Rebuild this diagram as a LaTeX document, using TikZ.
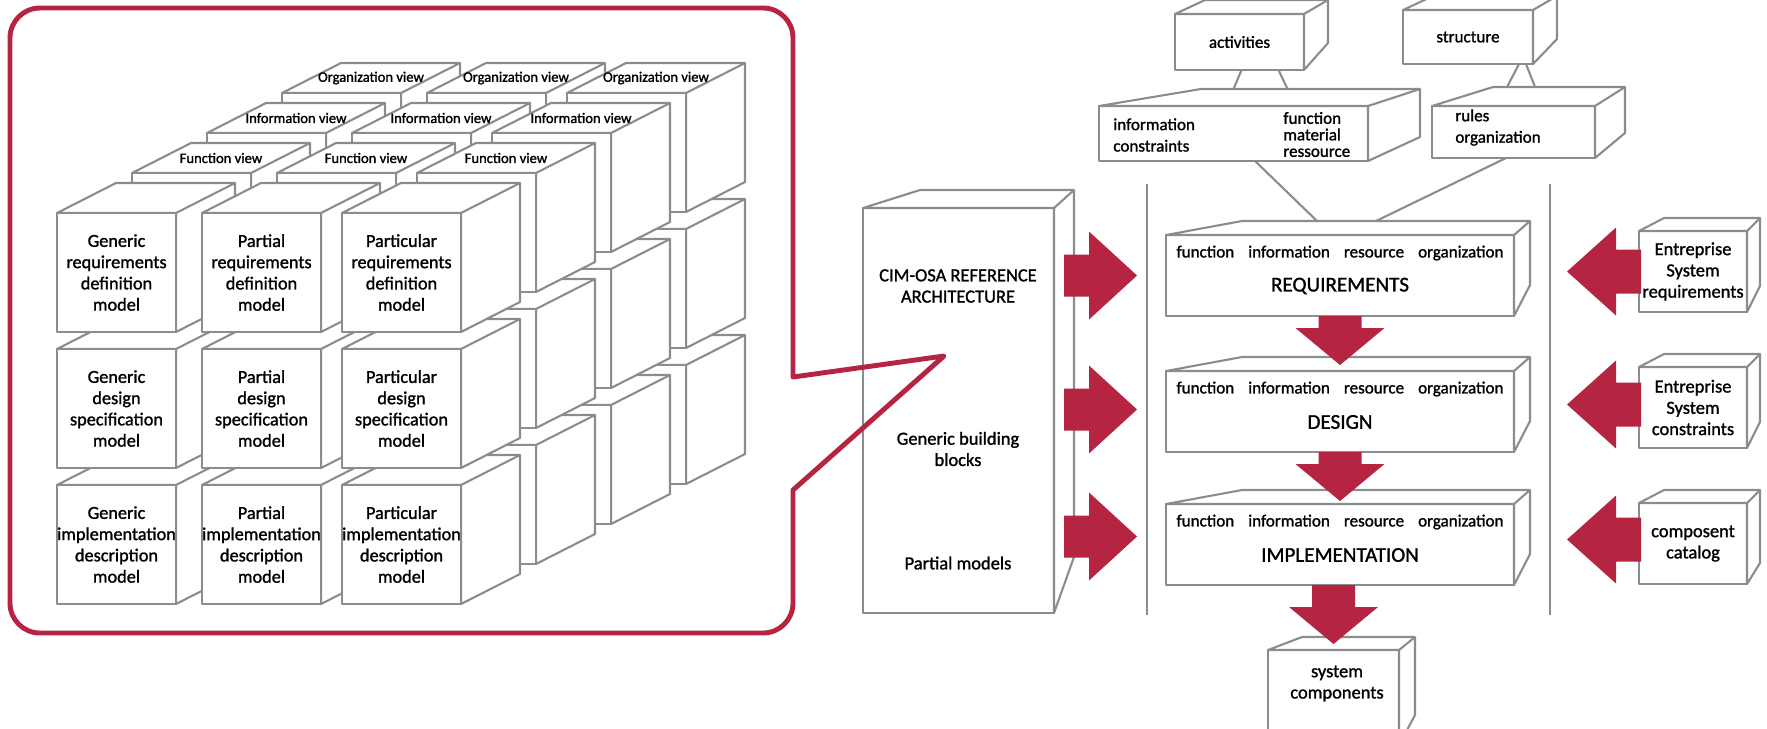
\documentclass[tikz,border=0pt]{standalone}
\usepackage{fontspec}
\setmainfont{Carlito}[FakeBold=1.3]
\usetikzlibrary{calc}

\definecolor{cimred}{RGB}{181,36,64}
\definecolor{linegray}{RGB}{138,141,144}

\tikzset{
  edge/.style={draw=linegray, line width=1.2pt, line join=round},
  face/.style 2 args={edge, fill=white, rectangle, inner sep=0pt, outer sep=0pt,
    minimum width=#1*0.02cm, minimum height=#2*0.02cm},
  small/.style={font=\fontsize{9.7}{12.2}\selectfont, inner sep=0pt},
  plain/.style={font=\fontsize{10.5}{12.1}\selectfont, align=center, inner sep=0pt},
  phase/.style={font=\fontsize{12}{14}\selectfont, inner sep=0pt},
  modeltxt/.style={font=\fontsize{10.4}{12.1}\selectfont, align=center, inner sep=0pt},
  viewtxt/.style={font=\fontsize{8.3}{10}\selectfont, inner sep=0pt},
  callout/.style={draw=cimred, line width=2.8pt, line join=round}
}

% one cube of the grid, #1,#2 = top left corner of the front face
\newcommand{\modelcube}[2]{%
  \filldraw[edge, fill=white] (#1,#2) -- ++(59,-30) -- ++(119,0) -- ++(0,119) -- ++(-59,30) -- ++(0,-119) -- cycle;
  \filldraw[edge, fill=white] (#1,#2) rectangle ++(119,119);
  \draw[edge] (#1+119,#2) -- ++(59,-30);
}
% top and right faces of a box node: node, dx left, dx right, rise top, rise bottom
\newcommand{\depthfaces}[5]{%
  \filldraw[edge, fill=white] (#1.north west) -- ++(#2,-#4) -- ($(#1.north east)+(#3,-#4)$)
    -- ($(#1.south east)+(#3,-#5)$) -- (#1.south east) -- (#1.north east) -- cycle;
  \draw[edge] (#1.north east) -- ++(#3,-#4);
}
% block arrows, #1 = tip
\newcommand{\arrowright}[1]{\fill[cimred] (#1) ++(-73,-21) -- ++(25,0) -- ++(0,-23) -- ++(48,44) -- ++(-48,44) -- ++(0,-23) -- ++(-25,0) -- cycle;}
\newcommand{\arrowleft}[1]{\fill[cimred] (#1) ++(74,-22) -- ++(-25,0) -- ++(0,-22) -- ++(-49,44) -- ++(49,44) -- ++(0,-22) -- ++(25,0) -- cycle;}
\newcommand{\arrowdown}[2]{\fill[cimred] (#1) ++(-21.5,-37-#2) -- ++(0,#2) -- ++(-23,0) -- ++(44.5,37) -- ++(44.5,-37) -- ++(-23,0) -- ++(0,-#2) -- cycle;}

\begin{document}
\begin{tikzpicture}[x=0.02cm, y=-0.02cm]
\useasboundingbox (0,0) rectangle (1767,728);

% the cube, back layer first
\foreach \l in {3,2,1,0} {
  \foreach \r in {2,1,0} {
    \foreach \cx in {57,202,342} {
      \modelcube{\cx+75*\l}{213+136*\r-40*\l}
    }
  }
}
\foreach \cx/\kind in {57/Generic,202/Partial,342/Particular} {
  \foreach \r/\ph/\doc in {0/requirements/definition,1/design/specification,2/implementation/description} {
    \node[modeltxt] (\kind-\ph) at (\cx+59.5,272.5+136*\r) {\kind\\\ph\\\doc\\model};
  }
}
\foreach \l/\view in {1/Function view,2/Information view,3/Organization view} {
  \foreach \cx in {57,202,342} {
    \node[viewtxt] (v\l-\cx) at (\cx+75*\l+89,198-40*\l) {\view};
  }
}

% separators
\draw[edge] (1147,184) -- (1147,615);
\draw[edge] (1550,184) -- (1550,615);

% reference architecture
\node[face={191}{405}] (cim) at (958.5,410.5) {};
\depthfaces{cim}{57}{20}{18}{56}
\node[plain] (cimname) at (958,286) {CIM-OSA REFERENCE\\ARCHITECTURE};
\node[plain] (blocks) at (958,449) {Generic building\\blocks};
\node[plain] (partial) at (958,563) {Partial models};

% views on top
\node[face={129}{56}, small] (act) at (1239.5,42) {activities};
\depthfaces{act}{30}{24}{14}{27}
\node[face={130}{54}, small] (str) at (1468,37) {structure};
\depthfaces{str}{30}{24}{14}{25}
\node[face={269}{55}] (mid) at (1233.5,133.5) {};
\depthfaces{mid}{102}{52}{17}{24}
\node[face={163}{52}] (rul) at (1513.5,132) {};
\depthfaces{rul}{61}{30}{19}{25}
\node[small, anchor=west, align=left] (midinfo) at (1113,135) {information\\constraints};
\node[small, anchor=west, align=left, font=\fontsize{9.7}{9.4}\selectfont] (midfunc) at (1283,134.5) {function\\material\\ressource};
\node[small, anchor=west, align=left] (rultxt) at (1455,127.5) {rules\\organization};
\draw[edge] ($(act.south)+(2,0)$) -- ($(mid.north)+(0,-17)$);
\draw[edge] ($(act.south)+(39,0)$) -- ($(mid.north)+(54,-17)$);
\draw[edge] ($(str.south)+(51,0)$) -- ($(rul.north)+(-6.5,-19)$);
\draw[edge] ($(str.south)+(58,0)$) -- ($(rul.north)+(21.5,-19)$);

% life cycle
\foreach \n/\y/\name in {req/275.5/REQUIREMENTS,dsg/411.5/DESIGN,imp/544.5/IMPLEMENTATION} {
  \node[face={348}{81}] (\n) at (1340,\y) {};
  \depthfaces{\n}{76}{16}{14}{31}
  \node[small] (\n-views) at ($(\n.north)+(0,18)$) {function\hspace{8pt}information\hspace{8pt}resource\hspace{8pt}organization};
  \node[phase] (\n-name) at ($(\n.north)+(0,51)$) {\name};
}
\draw[edge] ($(mid.south)+(21.5,0)$) -- ($(req.north)+(-23,-14)$);
\draw[edge] ($(rul.south)+(-7.5,0)$) -- ($(req.north)+(36,-14)$);

\node[face={131}{95}] (sys) at (1333.5,697.5) {};
\depthfaces{sys}{34}{16}{13}{30}
\node[plain] (systxt) at (1337,683.5) {system\\components};

% enterprise side
\node[face={108}{81}, plain] (esr) at (1693,271.5) {Entreprise\\System\\requirements};
\depthfaces{esr}{25}{13}{13}{26}
\node[face={108}{81}, plain] (esc) at (1693,407.5) {Entreprise\\System\\constraints};
\depthfaces{esc}{25}{13}{13}{26}
\node[face={108}{81}, plain] (cat) at (1693,543.5) {composent\\catalog};
\depthfaces{cat}{25}{13}{13}{21}

% block arrows
\arrowright{$(req.west)+(-29,0)$}
\arrowright{$(dsg.west)+(-29,-2)$}
\arrowright{$(imp.west)+(-29,-8)$}
\arrowleft{$(esr.west)+(-72,0)$}
\arrowleft{$(esc.west)+(-72,-3)$}
\arrowleft{$(cat.west)+(-72,-4)$}
\arrowdown{$(dsg.north)+(0,-6)$}{12}
\arrowdown{$(imp.north)+(0,-3)$}{12}
\arrowdown{$(sys.north)+(0,-6)$}{22}

% callout round the cube
\draw[callout] (944,356) -- (793,377) -- (793,250) [rounded corners=17pt] -- (793,8) -- (10,8)
  -- (10,633) -- (793,633) -- (793,560) [sharp corners] -- (793,490) -- cycle;
\end{tikzpicture}
\end{document}
